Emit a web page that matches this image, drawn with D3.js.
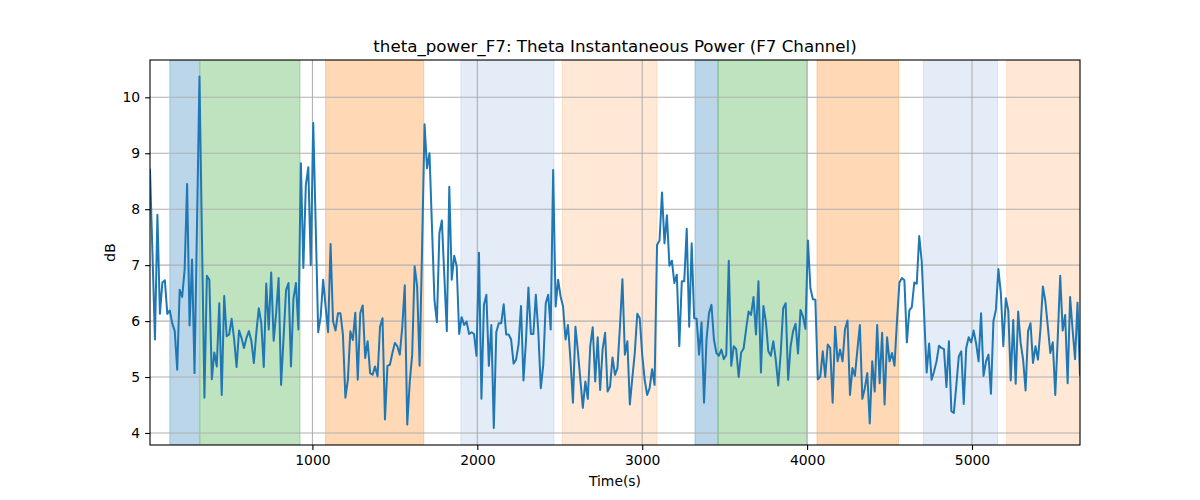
<!DOCTYPE html>
<html>
<head>
<meta charset="utf-8">
<script src="https://cdn.jsdelivr.net/npm/d3@7"></script>
<style>
body { margin: 0; background: #fff; }
text { font-family: "DejaVu Sans", sans-serif; fill: #000; }
</style>
</head>
<body>
<script>
// sampling of the power series (seconds)
var t0 = 15, dt = 15;

var power = [
  8.70, 7.20, 5.67, 7.90, 6.13, 6.69, 6.73, 6.13, 6.19, 5.96,
  5.82, 5.13, 6.56, 6.43, 6.92, 8.45, 5.92, 7.10, 5.07, 7.70,
  10.37, 7.50, 4.63, 6.81, 6.74, 4.96, 5.44, 5.19, 6.32, 4.68,
  6.45, 5.73, 5.76, 6.04, 5.68, 5.18, 5.83, 5.70, 5.52, 5.70,
  5.82, 5.64, 5.25, 5.80, 6.23, 5.96, 5.18, 6.67, 5.85, 6.87,
  5.65, 6.14, 6.77, 4.86, 5.70, 6.55, 6.68, 5.19, 6.40, 6.68,
  5.85, 8.82, 6.95, 8.43, 8.75, 7.00, 9.54, 7.70, 5.80, 6.08,
  6.74, 6.26, 5.80, 7.38, 6.00, 5.83, 6.14, 6.14, 5.76, 4.63,
  4.95, 5.82, 5.66, 6.15, 4.95, 6.14, 6.28, 5.34, 5.64, 5.07,
  5.04, 5.19, 5.01, 5.90, 6.05, 4.24, 5.20, 5.22, 5.43, 5.61,
  5.55, 5.40, 5.90, 6.64, 4.15, 4.90, 5.40, 6.98, 6.62, 5.20,
  7.30, 9.52, 8.73, 9.00, 7.69, 6.38, 5.98, 7.57, 7.80, 6.80,
  5.82, 8.40, 6.74, 7.17, 6.98, 5.77, 6.07, 5.93, 5.99, 5.77,
  5.80, 5.77, 5.38, 7.22, 4.61, 6.29, 6.47, 5.20, 5.93, 4.09,
  5.80, 5.96, 5.96, 6.30, 5.76, 5.76, 5.67, 5.24, 5.31, 5.58,
  6.27, 4.94, 5.64, 6.60, 5.77, 5.77, 6.47, 5.80, 4.80, 5.22,
  6.32, 6.47, 5.85, 8.70, 6.26, 6.74, 6.44, 6.26, 5.67, 5.93,
  5.30, 4.54, 5.90, 5.46, 4.95, 4.45, 4.92, 4.61, 5.56, 5.89,
  4.92, 5.71, 4.77, 5.50, 5.79, 4.74, 4.83, 5.35, 5.04, 5.16,
  5.90, 6.75, 5.40, 5.64, 4.51, 4.98, 5.43, 6.13, 6.05, 5.40,
  4.95, 4.68, 4.80, 5.14, 4.86, 7.36, 7.44, 8.30, 7.39, 7.89,
  6.99, 7.08, 6.68, 6.83, 5.55, 6.71, 6.71, 7.65, 5.90, 7.39,
  6.05, 6.04, 5.40, 5.98, 4.54, 5.67, 6.14, 6.29, 5.67, 5.43,
  5.38, 5.49, 5.32, 5.40, 7.08, 5.20, 5.55, 5.50, 5.00, 5.44,
  5.51, 5.85, 6.17, 6.11, 6.43, 5.76, 6.71, 5.08, 6.27, 5.99,
  5.46, 5.38, 5.64, 5.31, 4.85, 5.43, 6.23, 6.32, 4.95, 5.55,
  5.82, 5.95, 5.42, 6.20, 6.08, 5.86, 7.44, 6.59, 6.39, 6.38,
  4.96, 5.01, 5.46, 5.00, 5.58, 5.52, 4.54, 5.90, 5.28, 5.49,
  5.28, 5.86, 6.01, 4.68, 5.16, 5.02, 5.49, 5.93, 4.61, 4.80,
  5.07, 4.17, 5.28, 4.74, 5.93, 4.89, 5.79, 4.51, 5.71, 5.28,
  5.43, 5.20, 6.00, 6.69, 6.77, 6.73, 5.62, 6.19, 6.25, 6.69,
  6.67, 7.52, 7.07, 6.10, 5.08, 5.60, 4.95, 5.10, 5.28, 5.56,
  5.52, 5.50, 4.82, 5.64, 4.39, 4.36, 4.85, 5.37, 5.46, 4.52,
  5.52, 5.71, 5.62, 5.83, 5.60, 5.28, 6.14, 5.02, 5.28, 5.40,
  4.70, 6.00, 6.20, 6.93, 6.50, 5.55, 6.41, 6.19, 4.94, 6.02,
  4.88, 6.17, 5.61, 5.31, 4.76, 5.82, 5.96, 5.25, 5.55, 5.31,
  5.85, 6.62, 6.35, 5.90, 5.43, 5.62, 4.68, 5.70, 6.81, 5.83,
  6.11, 4.89, 6.43, 5.85, 5.32, 6.33, 5.04
];

// shaded segments (seconds)
var bandStart = [135, 320, 1080, 1900, 2515, 3320, 3460, 4060, 4705, 5210];
var bandEnd   = [315, 925, 1675, 2465, 3090, 3460, 4000, 4555, 5155, 5700];
var bandKind  = ["a", "b", "c", "d", "e", "a", "b", "c", "d", "e"];

var xTicks = [1000, 2000, 3000, 4000, 5000];
var yTicks = [4, 5, 6, 7, 8, 9, 10];

var bandFill = {a: "#1f77b4", b: "#2ca02c", c: "#ff7f0e", d: "#2f6fc0", e: "#ff7f0e"};
var bandOpacity = {a: 0.3, b: 0.3, c: 0.3, d: 0.13, e: 0.17};

var margin = {top: 60, right: 120, bottom: 55, left: 150};
var widthContainer = 1200, heightContainer = 500;
var width = widthContainer - margin.left - margin.right;
var height = heightContainer - margin.top - margin.bottom;

var data = power.map(function(v, i) { return {t: t0 + i * dt, v: v}; });

var svg = d3.select("body")
        .append("svg")
        .attr("width", widthContainer)
        .attr("height", heightContainer)
        .style("background", "#fff");

var g = svg.append("g")
        .attr("transform", "translate(" + margin.left + "," + margin.top + ")");

var x = d3.scaleLinear()
        .domain([15, 5655])
        .range([0, width]);

var y = d3.scaleLinear()
        .domain([3.785, 10.667])
        .range([height, 0]);

svg.append("defs").append("clipPath")
    .attr("id", "clip")
    .append("rect")
    .attr("width", width)
    .attr("height", height);

var plot = g.append("g").attr("clip-path", "url(#clip)");

// shaded spans
plot.selectAll(".band")
    .data(bandStart)
    .enter()
    .append("rect")
        .attr("class", "band")
        .attr("x", function(d) { return x(d); })
        .attr("y", 0)
        .attr("width", function(d, i) { return x(bandEnd[i]) - x(d); })
        .attr("height", height)
        .style("fill", function(d, i) { return bandFill[bandKind[i]]; })
        .style("fill-opacity", function(d, i) { return bandOpacity[bandKind[i]]; })
        .style("stroke", function(d, i) { return bandFill[bandKind[i]]; })
        .style("stroke-opacity", function(d, i) { return bandOpacity[bandKind[i]]; })
        .style("stroke-width", 1);

// grid
plot.selectAll(".xgrid")
    .data(xTicks)
    .enter()
    .append("line")
        .attr("x1", function(d) { return x(d); })
        .attr("x2", function(d) { return x(d); })
        .attr("y1", 0)
        .attr("y2", height)
        .style("stroke", "#b0b0b0")
        .style("stroke-width", 1.1);

plot.selectAll(".ygrid")
    .data(yTicks)
    .enter()
    .append("line")
        .attr("x1", 0)
        .attr("x2", width)
        .attr("y1", function(d) { return y(d); })
        .attr("y2", function(d) { return y(d); })
        .style("stroke", "#b0b0b0")
        .style("stroke-width", 1.1);

// power line
var line = d3.line()
        .x(function(d) { return x(d.t); })
        .y(function(d) { return y(d.v); });

plot.append("path")
    .datum(data)
    .attr("d", line)
    .style("fill", "none")
    .style("stroke", "#1f77b4")
    .style("stroke-width", 2)
    .style("stroke-linejoin", "round")
    .style("stroke-linecap", "square");

// axes
var xAxis = g.append("g")
    .attr("transform", "translate(0," + height + ")")
    .call(d3.axisBottom(x).tickValues(xTicks).tickSize(4.9).tickPadding(4.9).tickFormat(d3.format("d")));

var yAxis = g.append("g")
    .call(d3.axisLeft(y).tickValues(yTicks).tickSize(4.9).tickPadding(4.9).tickFormat(d3.format("d")));

[xAxis, yAxis].forEach(function(a) {
    a.select(".domain").remove();
    a.selectAll(".tick line").style("stroke", "#000").style("stroke-width", 1.1);
    a.selectAll(".tick text").style("font-size", "13.9px").style("font-family", "DejaVu Sans");
});

// frame
g.append("rect")
    .attr("width", width)
    .attr("height", height)
    .style("fill", "none")
    .style("stroke", "#000")
    .style("stroke-width", 1.1);

// labels
svg.append("text")
    .attr("x", margin.left + width / 2)
    .attr("y", 52)
    .attr("text-anchor", "middle")
    .style("font-size", "16.7px")
    .text("theta_power_F7: Theta Instantaneous Power (F7 Channel)");

svg.append("text")
    .attr("x", margin.left + width / 2)
    .attr("y", 486)
    .attr("text-anchor", "middle")
    .style("font-size", "13.9px")
    .text("Time(s)");

svg.append("text")
    .attr("transform", "rotate(-90)")
    .attr("x", -(margin.top + height / 2))
    .attr("y", 115)
    .attr("text-anchor", "middle")
    .style("font-size", "13.9px")
    .text("dB");
</script>
</body>
</html>
